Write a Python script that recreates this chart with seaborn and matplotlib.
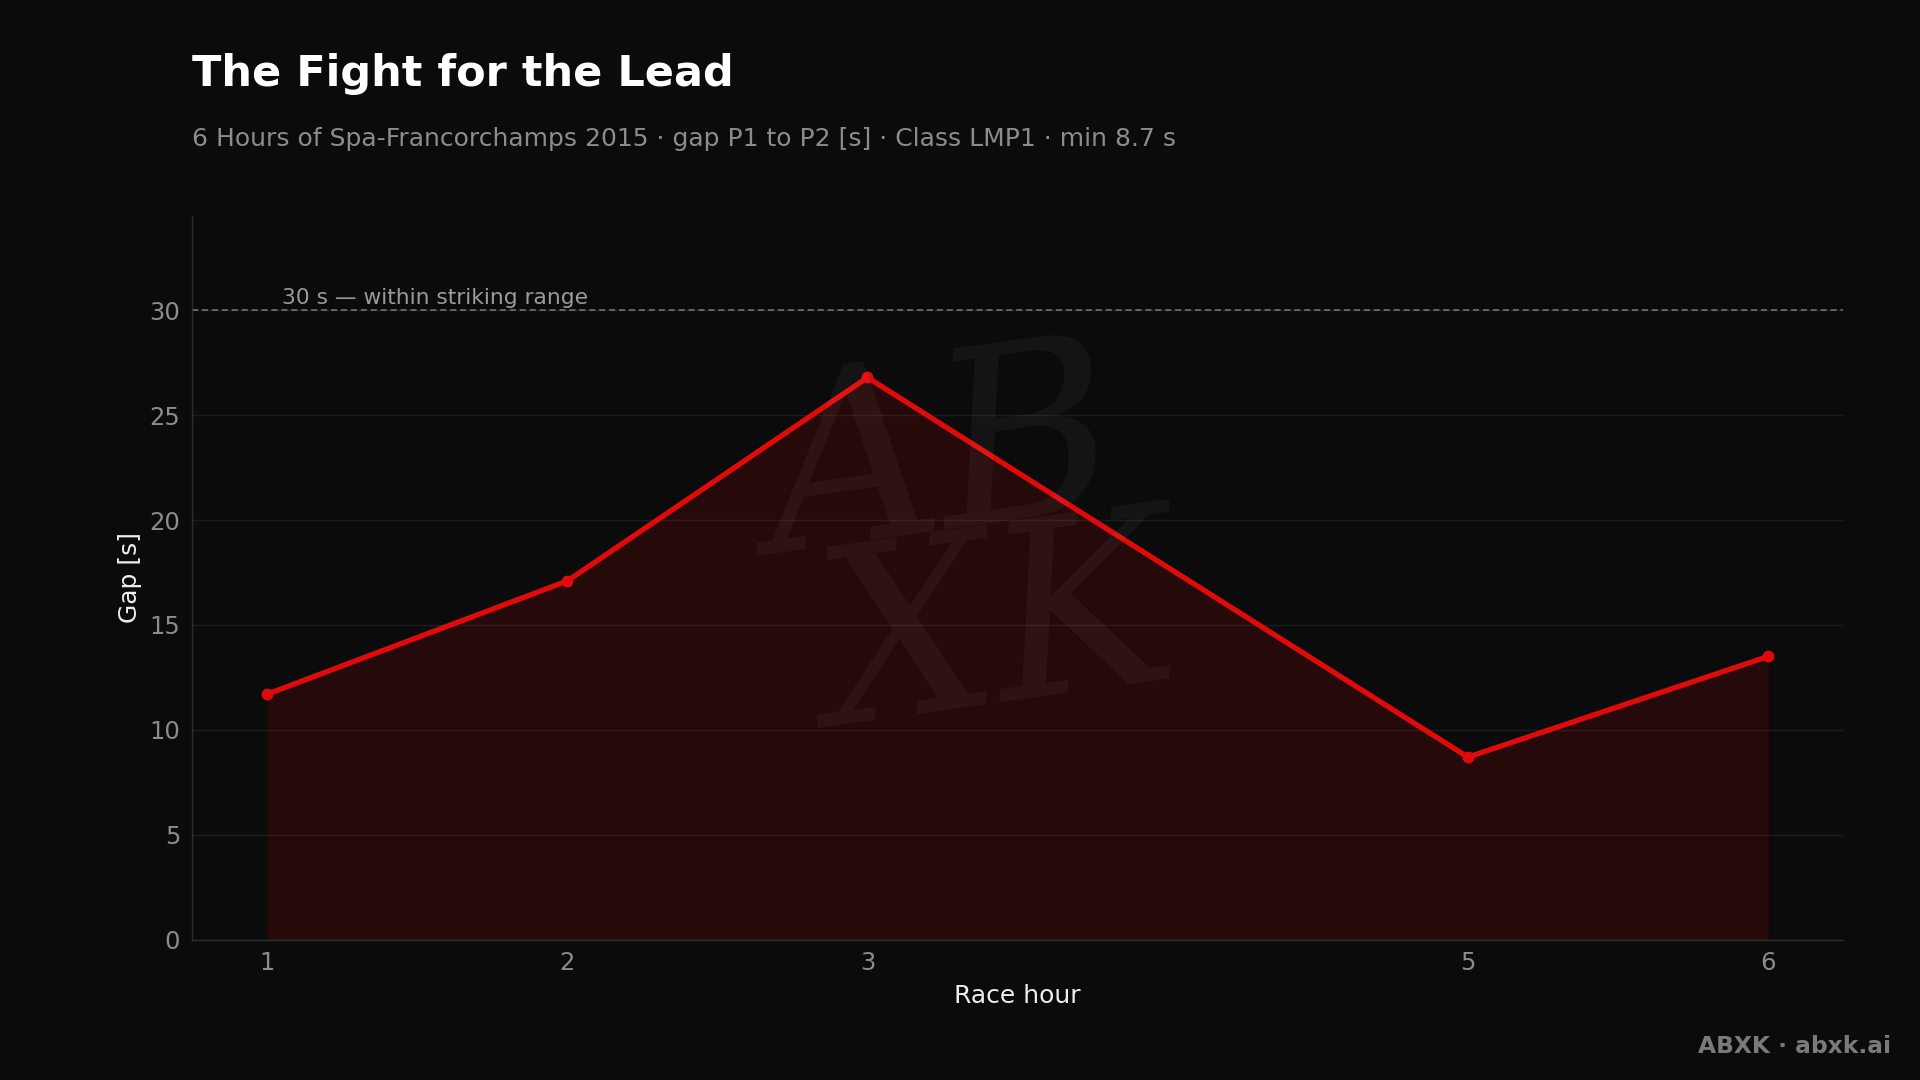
import matplotlib
matplotlib.use("Agg")
import matplotlib.pyplot as plt
import seaborn as sns
import pandas as pd

# data
race_hour = [1, 2, 3, 5, 6]
gap_s = [11.7, 17.1, 26.8, 8.7, 13.5]
threshold = 30
threshold_label = "30 s \u2014 within striking range"

title = "The Fight for the Lead"
subtitle = "6 Hours of Spa-Francorchamps 2015 \u00b7 gap P1 to P2 [s] \u00b7 Class LMP1 \u00b7 min 8.7 s"
footer = "ABXK \u00b7 abxk.ai"

BG = "#0b0b0b"
RED = "#e00a0a"

sns.set_theme(style="dark")
plt.rcParams["font.family"] = ["DejaVu Sans"]

df = pd.DataFrame({"hour": race_hour, "gap": gap_s})

fig = plt.figure(figsize=(19.2, 10.8), dpi=100, facecolor=BG)
ax = fig.add_axes([0.1, 0.13, 0.86, 0.67], facecolor=BG)

# faint watermark behind the data
fig.text(0.49, 0.57, "AB", fontsize=175, style="italic", family="DejaVu Serif",
         color="white", alpha=0.045, ha="center", va="center", rotation=8, zorder=0)
fig.text(0.52, 0.41, "XK", fontsize=175, style="italic", family="DejaVu Serif",
         color="white", alpha=0.045, ha="center", va="center", rotation=8, zorder=0)

ax.fill_between(df["hour"], df["gap"], 0, color=RED, alpha=0.13, linewidth=0, zorder=1)
sns.lineplot(data=df, x="hour", y="gap", ax=ax, color=RED, linewidth=3.8,
             marker="o", markersize=8.5, markeredgewidth=0, zorder=3)

ax.axhline(threshold, color="#7a7a7a", linestyle=(0, (4, 2.5)), linewidth=1.1, zorder=2)
ax.text(1.05, threshold + 0.12, threshold_label, color="#9a9a9a", fontsize=15.7,
        ha="left", va="bottom")

ax.set_xlim(0.75, 6.25)
ax.set_ylim(0, 34.5)
ax.set_xticks(race_hour)
ax.set_yticks([0, 5, 10, 15, 20, 25, 30])
ax.grid(axis="y", color="#1d1d1d", linewidth=1)
ax.grid(axis="x", visible=False)

for side in ["top", "right"]:
    ax.spines[side].set_visible(False)
for side in ["left", "bottom"]:
    ax.spines[side].set_visible(True)
    ax.spines[side].set_color("#2e2e2e")
    ax.spines[side].set_linewidth(1)

ax.tick_params(axis="both", colors="#8c8c8c", labelsize=17.5, length=5, width=1,
               labelcolor="#8c8c8c")
ax.tick_params(axis="both", color="#555555")
ax.set_xlabel("Race hour", color="#eeeeee", fontsize=18, labelpad=6)
ax.set_ylabel("Gap [s]", color="#eeeeee", fontsize=18, labelpad=5)

fig.text(0.1, 0.92, title, color="white", fontsize=31, fontweight="bold",
         ha="left", va="baseline")
fig.text(0.1, 0.865, subtitle, color="#8c8c8c", fontsize=18,
         ha="left", va="baseline")
fig.text(0.985, 0.025, footer, color="#7a7a7a", fontsize=16.8, fontweight="bold",
         ha="right", va="baseline")

fig.savefig("out.png", dpi=100, facecolor=BG)
